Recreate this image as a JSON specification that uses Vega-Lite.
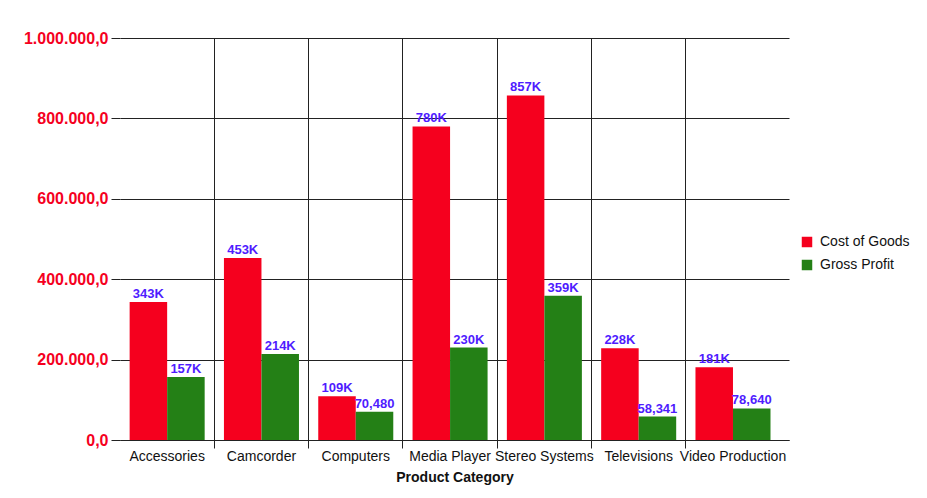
{
  "$schema": "https://vega.github.io/schema/vega-lite/v6.json",
  "autosize": "none",
  "width": 669,
  "height": 402,
  "padding": {"left": 120, "top": 38, "right": 138, "bottom": 58},
  "background": "white",
  "config": {
    "font": "Liberation Sans",
    "view": {"stroke": null},
    "axis": {"gridColor": "#222", "gridOpacity": 1, "tickColor": "#222", "domainColor": "#222"}
  },
  "data": {
    "values": [
      {"category": "Accessories", "series": "Cost of Goods", "value": 343000},
      {"category": "Accessories", "series": "Gross Profit", "value": 157000},
      {"category": "Camcorder", "series": "Cost of Goods", "value": 453000},
      {"category": "Camcorder", "series": "Gross Profit", "value": 214000},
      {"category": "Computers", "series": "Cost of Goods", "value": 109000},
      {"category": "Computers", "series": "Gross Profit", "value": 70480},
      {"category": "Media Player", "series": "Cost of Goods", "value": 780000},
      {"category": "Media Player", "series": "Gross Profit", "value": 230000},
      {"category": "Stereo Systems", "series": "Cost of Goods", "value": 857000},
      {"category": "Stereo Systems", "series": "Gross Profit", "value": 359000},
      {"category": "Televisions", "series": "Cost of Goods", "value": 228000},
      {"category": "Televisions", "series": "Gross Profit", "value": 58341},
      {"category": "Video Production", "series": "Cost of Goods", "value": 181000},
      {"category": "Video Production", "series": "Gross Profit", "value": 78640}
    ]
  },
  "encoding": {
    "x": {
      "field": "category",
      "type": "nominal",
      "sort": null,
      "scale": {"paddingInner": 0, "paddingOuter": 0.047, "align": 0},
      "axis": {
        "title": "Product Category",
        "titleFontSize": 14,
        "titleFontWeight": "bold",
        "titleColor": "#111",
        "titlePadding": 7,
        "labelAngle": 0,
        "labelFontSize": 14,
        "labelColor": "#111",
        "labelPadding": 1,
        "tickSize": 8,
        "bandPosition": 0,
        "grid": true,
        "gridOpacity": {"condition": {"test": "datum.value === 'Accessories'", "value": 0}, "value": 1},
        "tickOpacity": {"condition": {"test": "datum.value === 'Accessories'", "value": 0}, "value": 1}
      }
    },
    "xOffset": {
      "field": "series",
      "type": "nominal",
      "scale": {"paddingInner": 0, "paddingOuter": 0.257}
    },
    "y": {
      "field": "value",
      "type": "quantitative",
      "scale": {"domain": [0, 1000000], "nice": false},
      "axis": {
        "title": null,
        "values": [0, 200000, 400000, 600000, 800000, 1000000],
        "labelExpr": "replace(replace(replace(format(datum.value, ',.1f'), regexp(',', 'g'), '#'), '.', ','), regexp('#', 'g'), '.')",
        "labelFontSize": 16,
        "labelFontWeight": "bold",
        "labelColor": "#f5001e",
        "labelPadding": 3,
        "tickSize": 9,
        "domain": false,
        "grid": true
      }
    }
  },
  "layer": [
    {
      "mark": {"type": "bar"},
      "encoding": {
        "color": {
          "field": "series",
          "type": "nominal",
          "scale": {"domain": ["Cost of Goods", "Gross Profit"], "range": ["#f5001e", "#248016"]},
          "legend": {
            "title": null,
            "orient": "none",
            "legendX": 680,
            "legendY": 197,
            "padding": 0,
            "symbolType": "square",
            "symbolSize": 110,
            "symbolStrokeWidth": 0,
            "symbolOpacity": 1,
            "labelFontSize": 14,
            "labelColor": "#111",
            "labelOffset": 6,
            "rowPadding": 9
          }
        }
      }
    },
    {
      "transform": [
        {"calculate": "datum.value >= 100000 ? round(datum.value / 1000) + 'K' : floor(datum.value / 1000) + ',' + substring(toString(1000 + datum.value % 1000), 1)", "as": "label"}
      ],
      "mark": {"type": "text", "baseline": "bottom", "dy": -1, "fontSize": 13, "fontWeight": "bold", "color": "#4f1cff"},
      "encoding": {"text": {"field": "label"}}
    }
  ]
}
